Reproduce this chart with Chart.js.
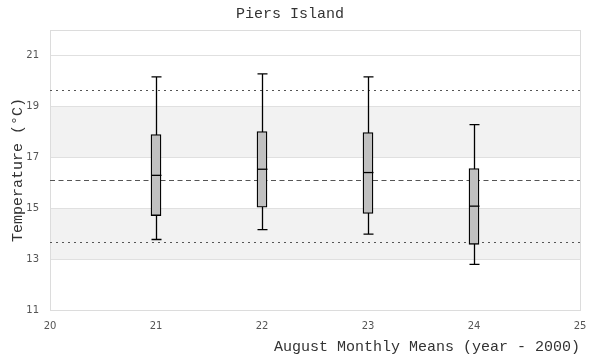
<!DOCTYPE html>
<html><head><meta charset="utf-8">
<script src="https://cdn.jsdelivr.net/npm/chart.js@4"></script>
<style>html,body{margin:0;padding:0;background:#fff}</style>
</head><body><canvas id="c" width="600" height="360"></canvas>
<script>
const years = [21, 22, 23, 24];
const whiskerLow = [13.77, 14.16, 13.98, 12.79];
const q1 = [14.71, 15.04, 14.79, 13.58];
const median = [16.29, 16.53, 16.40, 15.08];
const q3 = [17.89, 18.01, 17.97, 16.56];
const whiskerHigh = [20.16, 20.28, 20.16, 18.28];
const meanLine = 16.09;
const upperLine = 19.65;
const lowerLine = 13.69;
const bandLow = [13, 17];
const bandHigh = [15, 19];
const yTicks = [11, 13, 15, 17, 19, 21];
const xTicks = [20, 21, 22, 23, 24, 25];

const boxPlugin = {
  id: 'boxExtras',
  beforeDraw(chart) {
    const {ctx, chartArea: a, scales: {y}} = chart;
    ctx.save();
    ctx.fillStyle = '#f2f2f2';
    for (let i = 0; i < bandLow.length; i++) {
      const t = y.getPixelForValue(bandHigh[i]);
      const b = y.getPixelForValue(bandLow[i]);
      ctx.fillRect(a.left, t, a.right - a.left, b - t);
    }
    ctx.restore();
  },
  beforeDatasetsDraw(chart) {
    const {ctx, chartArea: a, scales: {x, y}} = chart;
    ctx.save();
    ctx.strokeStyle = '#dcdcdc';
    ctx.lineWidth = 1;
    ctx.strokeRect(Math.round(a.left) + 0.5, Math.round(a.top) + 0.5, Math.round(a.right - a.left), Math.round(a.bottom - a.top));
    const hline = (v, dash) => {
      const py = Math.round(y.getPixelForValue(v)) + 0.5;
      ctx.setLineDash(dash);
      ctx.strokeStyle = '#555';
      ctx.beginPath(); ctx.moveTo(a.left, py); ctx.lineTo(a.right, py); ctx.stroke();
    };
    hline(meanLine, [5, 3.5]);
    hline(upperLine, [2, 4]);
    hline(lowerLine, [2, 4]);
    ctx.setLineDash([]);
    ctx.strokeStyle = '#000';
    ctx.lineWidth = 1.3;
    const half = 5;
    for (let i = 0; i < years.length; i++) {
      const px = Math.round(x.getPixelForValue(years[i])) + 0.5;
      const lo = y.getPixelForValue(whiskerLow[i]);
      const hi = y.getPixelForValue(whiskerHigh[i]);
      ctx.beginPath();
      ctx.moveTo(px, lo); ctx.lineTo(px, hi);
      ctx.moveTo(px - half, lo); ctx.lineTo(px + half, lo);
      ctx.moveTo(px - half, hi); ctx.lineTo(px + half, hi);
      ctx.stroke();
    }
    ctx.restore();
  },
  afterDatasetsDraw(chart) {
    const {ctx, scales: {x, y}} = chart;
    ctx.save();
    ctx.strokeStyle = '#000';
    ctx.lineWidth = 1.3;
    const half = 5;
    for (let i = 0; i < years.length; i++) {
      const px = Math.round(x.getPixelForValue(years[i])) + 0.5;
      const m = y.getPixelForValue(median[i]);
      ctx.beginPath(); ctx.moveTo(px - half, m); ctx.lineTo(px + half, m); ctx.stroke();
    }
    ctx.restore();
  }
};

const monoFont = {family: "'Liberation Mono', 'DejaVu Sans Mono', monospace", size: 15, weight: 'normal'};
const tickFont = {family: "'DejaVu Sans', sans-serif", size: 10};

new Chart(document.getElementById('c'), {
  type: 'bar',
  data: {
    datasets: [{
      data: years.map((yr, i) => ({x: yr, y: [q1[i], q3[i]]})),
      backgroundColor: '#c0c0c0',
      borderColor: '#000',
      borderWidth: 1.3,
      borderSkipped: false,
      barThickness: 10
    }]
  },
  options: {
    responsive: false,
    animation: false,
    layout: {padding: {left: 0, right: 20, top: 0, bottom: 0}},
    plugins: {
      legend: {display: false},
      tooltip: {enabled: false},
      title: {
        display: true,
        text: 'Piers Island',
        color: '#333',
        font: monoFont,
        padding: {top: 5, bottom: 7}
      }
    },
    scales: {
      x: {
        type: 'linear',
        offset: false,
        min: 20, max: 25,
        afterBuildTicks: s => { s.ticks = xTicks.map(v => ({value: v})); },
        afterFit: s => { s.height = 50; },
        grid: {display: false, drawTicks: false, offset: false},
        border: {display: false},
        ticks: {color: '#555', font: tickFont, padding: 10, maxRotation: 0},
        title: {display: true, text: 'August Monthly Means (year - 2000)', align: 'end', color: '#333', font: monoFont, padding: {top: 0, bottom: 4}}
      },
      y: {
        type: 'linear',
        min: 11, max: 22,
        afterBuildTicks: s => { s.ticks = yTicks.map(v => ({value: v})); },
        afterFit: s => { s.width = 50; },
        grid: {color: '#e0e0e0', drawTicks: false},
        border: {display: false},
        ticks: {color: '#555', font: tickFont, padding: 11},
        title: {display: true, text: 'Temperature (°C)', color: '#333', font: monoFont, padding: {top: 9, bottom: 0}}
      }
    }
  },
  plugins: [boxPlugin]
});
</script>
</body></html>
